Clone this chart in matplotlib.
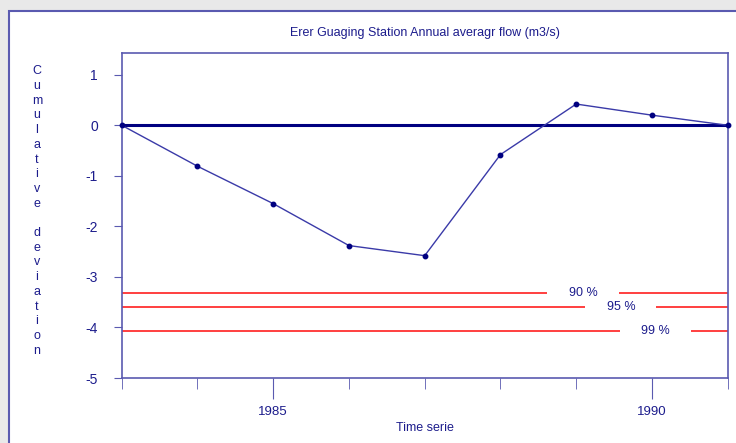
import matplotlib
matplotlib.use('Agg')
import matplotlib.pyplot as plt
from matplotlib.patches import Rectangle

plt.rcParams['font.family'] = ['Liberation Sans Narrow', 'Liberation Sans', 'DejaVu Sans']

# 数据
years = [1983, 1984, 1985, 1986, 1987, 1988, 1989, 1990, 1991]
cum_dev = [0.0, -0.81, -1.55, -2.38, -2.58, -0.58, 0.42, 0.20, 0.0]
conf_labels = ['90 %', '95 %', '99 %']
conf_values = [-3.31, -3.59, -4.08]

navy = '#000080'
ink = '#1c1c8c'
frame = '#5a5ab0'

fig = plt.figure(figsize=(7.36, 4.43), dpi=100)
fig.patch.set_facecolor('#e9e9e9')
# 白色面板和蓝色边框
fig.add_artist(Rectangle((9 / 736, -0.1), 1, 1.1 - 11 / 443, transform=fig.transFigure,
                         facecolor='white', edgecolor=frame, linewidth=1.5, zorder=-10))

ax = fig.add_axes([121.7 / 736, 1 - 378 / 443, (727.7 - 121.7) / 736, (378 - 53) / 443])
ax.set_xlim(1983, 1991)
ax.set_ylim(-5, 1.43)

# 零线
ax.axhline(0, color=navy, linewidth=2.2, zorder=2)
# 置信线，中间留出标签位置
label_x = [1989.09, 1989.59, 1990.05]
half_gap = 0.47
for lab, v, cx in zip(conf_labels, conf_values, label_x):
    ax.hlines(v, 1983, cx - half_gap, color='#ff3030', linewidth=1.3)
    ax.hlines(v, cx + half_gap, 1991, color='#ff3030', linewidth=1.3)
    ax.text(cx, v, lab, color=ink, fontsize=9, ha='center', va='center')

ax.plot(years, cum_dev, color='#3a3aa8', linewidth=1, marker='o', markersize=3.2,
        markerfacecolor=navy, markeredgecolor=navy, zorder=3, clip_on=False)

for s in ax.spines.values():
    s.set_color(frame)
    s.set_linewidth(1.2)

ax.set_yticks([1, 0, -1, -2, -3, -4, -5])
ax.set_yticklabels(['1', '0', '-1', '-2', '-3', '-4', '-5'])
ax.set_xticks([1985, 1990])
ax.set_xticks(years, minor=True)
ax.tick_params(axis='y', colors=frame, labelcolor=ink, length=6, labelsize=10, pad=11)
ax.tick_params(axis='x', which='major', colors=frame, labelcolor=ink, length=15, labelsize=9.5, pad=5)
ax.tick_params(axis='x', which='minor', colors=frame, length=8)

ax.set_xlabel('Time serie', color=ink, fontsize=9, labelpad=3)
fig.text((121.7 + 727.7) / 2 / 736, 1 - 33 / 443, 'Erer Guaging Station Annual averagr flow (m3/s)',
         color=ink, fontsize=9, ha='center', va='center')

# 竖排的y轴标题
ylab = '\n'.join('Cumulative deviation')
fig.text(37 / 736, 1 - 211 / 443, ylab, color=ink, fontsize=9, ha='center', va='center',
         linespacing=1.3)

plt.savefig('out.png', dpi=100)
